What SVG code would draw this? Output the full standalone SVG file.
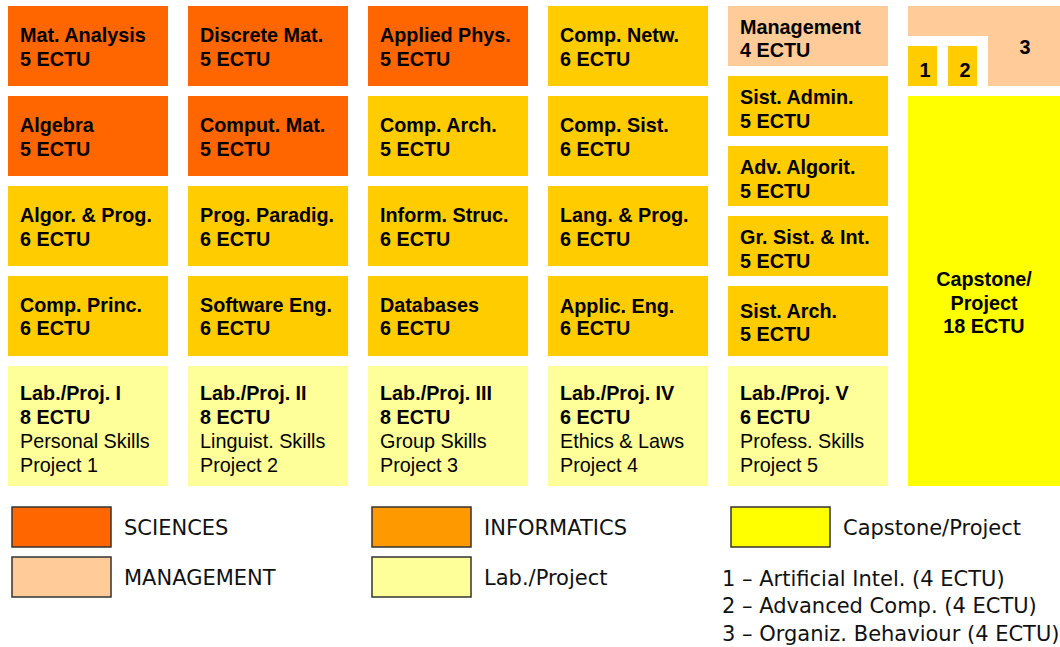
<svg xmlns="http://www.w3.org/2000/svg" width="1060" height="647" viewBox="0 0 1060 647">
<style>
.sci{fill:#FF6600}
.inf{fill:#FFCC00}
.mgt{fill:#FFCC99}
.lab{fill:#FFFF99}
.cap{fill:#FFFF00}
text{font-family:"Liberation Sans",Arial,sans-serif;font-size:19.8px;fill:#000}
.b{font-weight:bold}
.lg{font-family:"DejaVu Sans",Tahoma,sans-serif;font-size:21px;fill:#111}
.lb{stroke:#333;stroke-width:1.5}
</style>
<rect width="1060" height="647" fill="#fff"/>
<g id="nodes">
<g id="mat-analysis"><rect class="sci" x="8" y="6" width="160" height="80"/><text class="b" x="20" y="42">Mat. Analysis</text><text class="b" x="20" y="66">5 ECTU</text></g>
<g id="discrete-mat"><rect class="sci" x="188" y="6" width="160" height="80"/><text class="b" x="200" y="42">Discrete Mat.</text><text class="b" x="200" y="66">5 ECTU</text></g>
<g id="applied-phys"><rect class="sci" x="368" y="6" width="160" height="80"/><text class="b" x="380" y="42">Applied Phys.</text><text class="b" x="380" y="66">5 ECTU</text></g>
<g id="comp-netw"><rect class="inf" x="548" y="6" width="160" height="80"/><text class="b" x="560" y="42">Comp. Netw.</text><text class="b" x="560" y="66">6 ECTU</text></g>
<g id="management"><rect class="mgt" x="728" y="6" width="160" height="60"/><text class="b" x="740" y="34">Management</text><text class="b" x="740" y="57">4 ECTU</text></g>

<g id="algebra"><rect class="sci" x="8" y="96" width="160" height="80"/><text class="b" x="20" y="132">Algebra</text><text class="b" x="20" y="156">5 ECTU</text></g>
<g id="comput-mat"><rect class="sci" x="188" y="96" width="160" height="80"/><text class="b" x="200" y="132">Comput. Mat.</text><text class="b" x="200" y="156">5 ECTU</text></g>
<g id="comp-arch"><rect class="inf" x="368" y="96" width="160" height="80"/><text class="b" x="380" y="132">Comp. Arch.</text><text class="b" x="380" y="156">5 ECTU</text></g>
<g id="comp-sist"><rect class="inf" x="548" y="96" width="160" height="80"/><text class="b" x="560" y="132">Comp. Sist.</text><text class="b" x="560" y="156">6 ECTU</text></g>
<g id="sist-admin"><rect class="inf" x="728" y="76" width="160" height="60"/><text class="b" x="740" y="104">Sist. Admin.</text><text class="b" x="740" y="128">5 ECTU</text></g>

<g id="algor-prog"><rect class="inf" x="8" y="186" width="160" height="80"/><text class="b" x="20" y="222">Algor. &amp; Prog.</text><text class="b" x="20" y="246">6 ECTU</text></g>
<g id="prog-paradig"><rect class="inf" x="188" y="186" width="160" height="80"/><text class="b" x="200" y="222">Prog. Paradig.</text><text class="b" x="200" y="246">6 ECTU</text></g>
<g id="inform-struc"><rect class="inf" x="368" y="186" width="160" height="80"/><text class="b" x="380" y="222">Inform. Struc.</text><text class="b" x="380" y="246">6 ECTU</text></g>
<g id="lang-prog"><rect class="inf" x="548" y="186" width="160" height="80"/><text class="b" x="560" y="222">Lang. &amp; Prog.</text><text class="b" x="560" y="246">6 ECTU</text></g>
<g id="adv-algorit"><rect class="inf" x="728" y="146" width="160" height="60"/><text class="b" x="740" y="174">Adv. Algorit.</text><text class="b" x="740" y="198">5 ECTU</text></g>

<g id="comp-princ"><rect class="inf" x="8" y="276" width="160" height="80"/><text class="b" x="20" y="312">Comp. Princ.</text><text class="b" x="20" y="335">6 ECTU</text></g>
<g id="software-eng"><rect class="inf" x="188" y="276" width="160" height="80"/><text class="b" x="200" y="312">Software Eng.</text><text class="b" x="200" y="335">6 ECTU</text></g>
<g id="databases"><rect class="inf" x="368" y="276" width="160" height="80"/><text class="b" x="380" y="312">Databases</text><text class="b" x="380" y="335">6 ECTU</text></g>
<g id="applic-eng"><rect class="inf" x="548" y="276" width="160" height="80"/><text class="b" x="560" y="313">Applic. Eng.</text><text class="b" x="560" y="335">6 ECTU</text></g>
<g id="gr-sist"><rect class="inf" x="728" y="216" width="160" height="60"/><text class="b" x="740" y="244">Gr. Sist. &amp; Int.</text><text class="b" x="740" y="268">5 ECTU</text></g>
<g id="sist-arch"><rect class="inf" x="728" y="286" width="160" height="70"/><text class="b" x="740" y="318">Sist. Arch.</text><text class="b" x="740" y="341">5 ECTU</text></g>

<g id="lab1"><rect class="lab" x="8" y="366" width="160" height="120"/><text class="b" x="20" y="400">Lab./Proj. I</text><text class="b" x="20" y="424">8 ECTU</text><text x="20" y="448">Personal Skills</text><text x="20" y="472">Project 1</text></g>
<g id="lab2"><rect class="lab" x="188" y="366" width="160" height="120"/><text class="b" x="200" y="400">Lab./Proj. II</text><text class="b" x="200" y="424">8 ECTU</text><text x="200" y="448">Linguist. Skills</text><text x="200" y="472">Project 2</text></g>
<g id="lab3"><rect class="lab" x="368" y="366" width="160" height="120"/><text class="b" x="380" y="400">Lab./Proj. III</text><text class="b" x="380" y="424">8 ECTU</text><text x="380" y="448">Group Skills</text><text x="380" y="472">Project 3</text></g>
<g id="lab4"><rect class="lab" x="548" y="366" width="160" height="120"/><text class="b" x="560" y="400">Lab./Proj. IV</text><text class="b" x="560" y="424">6 ECTU</text><text x="560" y="448">Ethics &amp; Laws</text><text x="560" y="472">Project 4</text></g>
<g id="lab5"><rect class="lab" x="728" y="366" width="160" height="120"/><text class="b" x="740" y="400">Lab./Proj. V</text><text class="b" x="740" y="424">6 ECTU</text><text x="740" y="448">Profess. Skills</text><text x="740" y="472">Project 5</text></g>

<g id="elective3"><path class="mgt" d="M908 6H1060V86H988V36H908Z"/><text class="b" x="1025" y="54" text-anchor="middle">3</text></g>
<g id="elective1"><rect class="inf" x="908" y="46" width="29" height="40"/><text class="b" x="925" y="77" text-anchor="middle">1</text></g>
<g id="elective2"><rect class="inf" x="948" y="46" width="29" height="40"/><text class="b" x="965" y="77" text-anchor="middle">2</text></g>
<g id="capstone"><rect class="cap" x="908" y="96" width="152" height="390"/><text class="b" x="984" y="286" text-anchor="middle">Capstone/</text><text class="b" x="984" y="310" text-anchor="middle">Project</text><text class="b" x="984" y="333" text-anchor="middle">18 ECTU</text></g>
</g>
<g id="connectors"></g>
<g id="legend">
<rect class="lb" x="12" y="507" width="99" height="40" fill="#FF6600"/><text class="lg" x="124" y="535">SCIENCES</text>
<rect class="lb" x="12" y="557" width="99" height="40" fill="#FFCC99"/><text class="lg" x="124" y="585">MANAGEMENT</text>
<rect class="lb" x="372" y="507" width="99" height="40" fill="#FF9900"/><text class="lg" x="484" y="535">INFORMATICS</text>
<rect class="lb" x="372" y="557" width="99" height="40" fill="#FFFF99"/><text class="lg" x="484" y="585">Lab./Project</text>
<rect class="lb" x="731" y="507" width="99" height="40" fill="#FFFF00"/><text class="lg" x="843" y="535">Capstone/Project</text>
<text class="lg" x="722" y="586">1 – Artificial Intel. (4 ECTU)</text>
<text class="lg" x="722" y="613">2 – Advanced Comp. (4 ECTU)</text>
<text class="lg" x="722" y="641">3 – Organiz. Behaviour (4 ECTU)</text>
</g>
</svg>
